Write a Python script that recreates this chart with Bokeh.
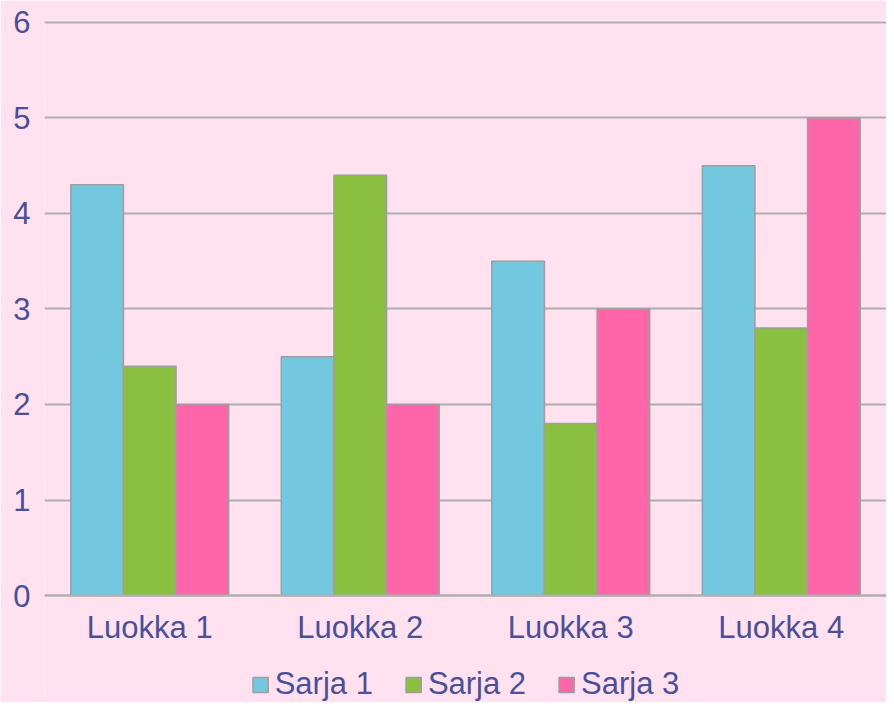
from bokeh.plotting import figure
from bokeh.models import ColumnDataSource, FactorRange, Legend, LegendItem, Range1d
from bokeh.transform import dodge
from bokeh.embed import file_html
from bokeh.resources import INLINE

categories = ["Luokka 1", "Luokka 2", "Luokka 3", "Luokka 4"]
series_names = ["Sarja 1", "Sarja 2", "Sarja 3"]
sarja1 = [4.3, 2.5, 3.5, 4.5]
sarja2 = [2.4, 4.4, 1.8, 2.8]
sarja3 = [2.0, 2.0, 3.0, 5.0]
y_ticks = [0, 1, 2, 3, 4, 5, 6]
colors = ["#73C8E0", "#8BBF3F", "#FF66AA"]

BG = "#FFE1EF"
TXT = "#4B4F96"
GRID = "#AFAFAF"
FONT = "Liberation Sans"

source = ColumnDataSource(data=dict(cat=categories, s1=sarja1, s2=sarja2, s3=sarja3))

# frame extends below zero so the category labels and legend sit inside it
p = figure(x_range=FactorRange(*categories, range_padding=0), y_range=Range1d(-1.12, 6.02),
           frame_width=842, frame_height=682, output_backend="svg", toolbar_location=None,
           background_fill_color=BG, border_fill_color=BG, outline_line_color=None,
           min_border_left=44, min_border_right=0, min_border_top=20, min_border_bottom=0)

renderers = []
for col, off, c in zip(["s1", "s2", "s3"], [-0.25, 0.0, 0.25], colors):
    r = p.vbar(x=dodge("cat", off, range=p.x_range), top=col, bottom=0, width=0.25, source=source,
               fill_color=c, line_color="#9E9E9E", line_width=1.5)
    renderers.append(r)

p.xgrid.grid_line_color = None
p.ygrid.grid_line_color = GRID
p.ygrid.grid_line_width = 2
p.ygrid.ticker = y_ticks

p.yaxis.axis_line_color = None
p.yaxis.major_tick_line_color = None
p.yaxis.minor_tick_line_color = None
p.yaxis.ticker = y_ticks
p.yaxis.major_label_text_font = FONT
p.yaxis.major_label_text_font_size = "31px"
p.yaxis.major_label_text_color = TXT
p.yaxis.major_label_standoff = 8

p.xaxis.fixed_location = 0
p.xaxis.axis_line_color = GRID
p.xaxis.axis_line_width = 2
p.xaxis.major_tick_line_color = None
p.xaxis.minor_tick_line_color = None
p.xaxis.major_label_text_font = FONT
p.xaxis.major_label_text_font_size = "31px"
p.xaxis.major_label_text_color = TXT
p.xaxis.major_label_standoff = 8

legend = Legend(items=[LegendItem(label=n, renderers=[r]) for n, r in zip(series_names, renderers)],
                orientation="horizontal", location="bottom_center",
                background_fill_alpha=0, border_line_color=None,
                label_text_font=FONT, label_text_font_size="31px", label_text_color=TXT,
                glyph_width=19, glyph_height=19, label_standoff=5, spacing=31,
                padding=0, margin=0)
p.add_layout(legend, "center")

open("out.html", "w").write(file_html(p, INLINE))
